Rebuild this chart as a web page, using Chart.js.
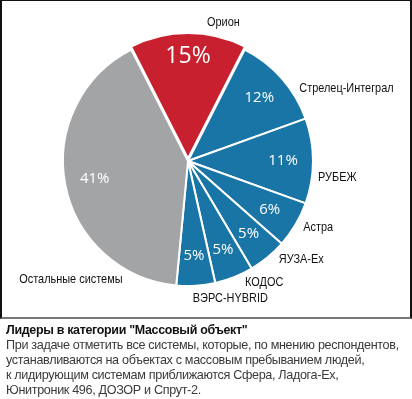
<!DOCTYPE html>
<html>
<head>
<meta charset="utf-8">
<script src="https://cdn.jsdelivr.net/npm/chart.js@4.4.1/dist/chart.umd.min.js"></script>
<style>
  body { margin: 0; background: #fff; }
  #wrap { position: relative; width: 412px; height: 399px; overflow: hidden; }
  #frame { position: absolute; left: 0; top: 0; width: 412px; height: 319px; }
  #border { position: absolute; left: 0; top: 0; width: 408px; height: 316px;
            border-left: 2px solid #111; border-right: 2px solid #111;
            border-top: 1px solid #111; border-bottom: 2px solid #777; pointer-events: none; }
  .cap { position: absolute; left: 6px; white-space: nowrap; transform-origin: 0 0;
         font-family: "Liberation Sans", Arial, sans-serif; font-size: 13px; line-height: 15px;
         letter-spacing: -0.35px; }
  #title { top: 322px; font-weight: bold; color: #111; transform: scaleX(0.96); }
  #body { top: 337px; color: #3a3a3a; transform: scaleX(0.97); }
</style>
</head>
<body>
<div id="wrap">
  <div id="frame"><canvas id="pie" width="412" height="319"></canvas></div>
  <div id="border"></div>
  <div class="cap" id="title">Лидеры в категории "Массовый объект"</div>
  <div class="cap" id="body">
    При задаче отметить все системы, которые, по мнению респондентов,<br>
    устанавливаются на объектах с массовым пребыванием людей,<br>
    к лидирующим системам приближаются Сфера, Ладога-Ех,<br>
    Юнитроник 496, ДОЗОР и Спрут-2.
  </div>
</div>
<script>
var systems = ['Орион', 'Стрелец-Интеграл', 'РУБЕЖ', 'Астра', 'ЯУЗА-Ex', 'КОДОС', 'ВЭРС-HYBRID', 'Остальные системы'];
var shares = [15, 12, 11, 6, 5, 5, 5, 41];
var sliceColors = ['#c8202e', '#1975a5', '#1975a5', '#1975a5', '#1975a5', '#1975a5', '#1975a5', '#a3a4a6'];

// where each name sits: fraction along the slice, distance from centre, alignment
var namePlaces = [
  [0.765, 143, 'center'],
  [0.69, 133, 'left'],
  [0.68, 131, 'left'],
  [0.47, 133, 'left'],
  [0.33, 134, 'left'],
  [0.30, 134, 'left'],
  [0.59, 138, 'left'],
  [0.16, 135, 'right']
];
var squeeze = 0.84;

var pieLabels = {
  id: 'pieLabels',
  afterDatasetsDraw: function(chart) {
    var ctx = chart.ctx;
    var arcs = chart.getDatasetMeta(0).data;
    ctx.save();
    ctx.textBaseline = 'middle';
    arcs.forEach(function(arc, i) {
      var p = arc.getProps(['x', 'y', 'startAngle', 'endAngle', 'outerRadius']);
      var mid = (p.startAngle + p.endAngle) / 2;
      var off = chart.data.datasets[0].offset[i] || 0;
      var cx = p.x + Math.cos(mid) * off;
      var cy = p.y + Math.sin(mid) * off;
      // percent inside
      var r = p.outerRadius * 0.76;
      ctx.fillStyle = '#fff';
      ctx.textAlign = 'center';
      ctx.font = (i === 0 ? '23px' : '15px') + ' "Open Sans", sans-serif';
      ctx.fillText(shares[i] + '%', cx + Math.cos(mid) * r, cy + Math.sin(mid) * r);
      // name outside, squeezed like a narrow face
      var pl = namePlaces[i];
      var a = p.startAngle + (p.endAngle - p.startAngle) * pl[0];
      var nx = p.x + Math.cos(a) * pl[1];
      var ny = p.y + Math.sin(a) * pl[1];
      ctx.save();
      ctx.translate(nx, ny);
      ctx.scale(squeeze, 1);
      ctx.fillStyle = '#111';
      ctx.textAlign = pl[2];
      ctx.font = '13px "Liberation Sans", Arial, sans-serif';
      ctx.fillText(systems[i], 0, 0);
      ctx.restore();
    });
    ctx.restore();
  }
};

var ctx = document.getElementById('pie').getContext('2d');
var pieChart = new Chart(ctx, {
  type: 'pie',
  data: {
    labels: systems,
    datasets: [{
      data: shares,
      backgroundColor: sliceColors,
      borderColor: '#fff',
      borderWidth: 2,
      offset: [10, 0, 0, 0, 0, 0, 0, 0]
    }]
  },
  options: {
    responsive: false,
    animation: false,
    rotation: -27,
    radius: 125,
    layout: { padding: { left: 0, right: 36, top: 3, bottom: 0 } },
    plugins: { legend: { display: false }, tooltip: { enabled: false } }
  },
  plugins: [pieLabels]
});
</script>
</body>
</html>
